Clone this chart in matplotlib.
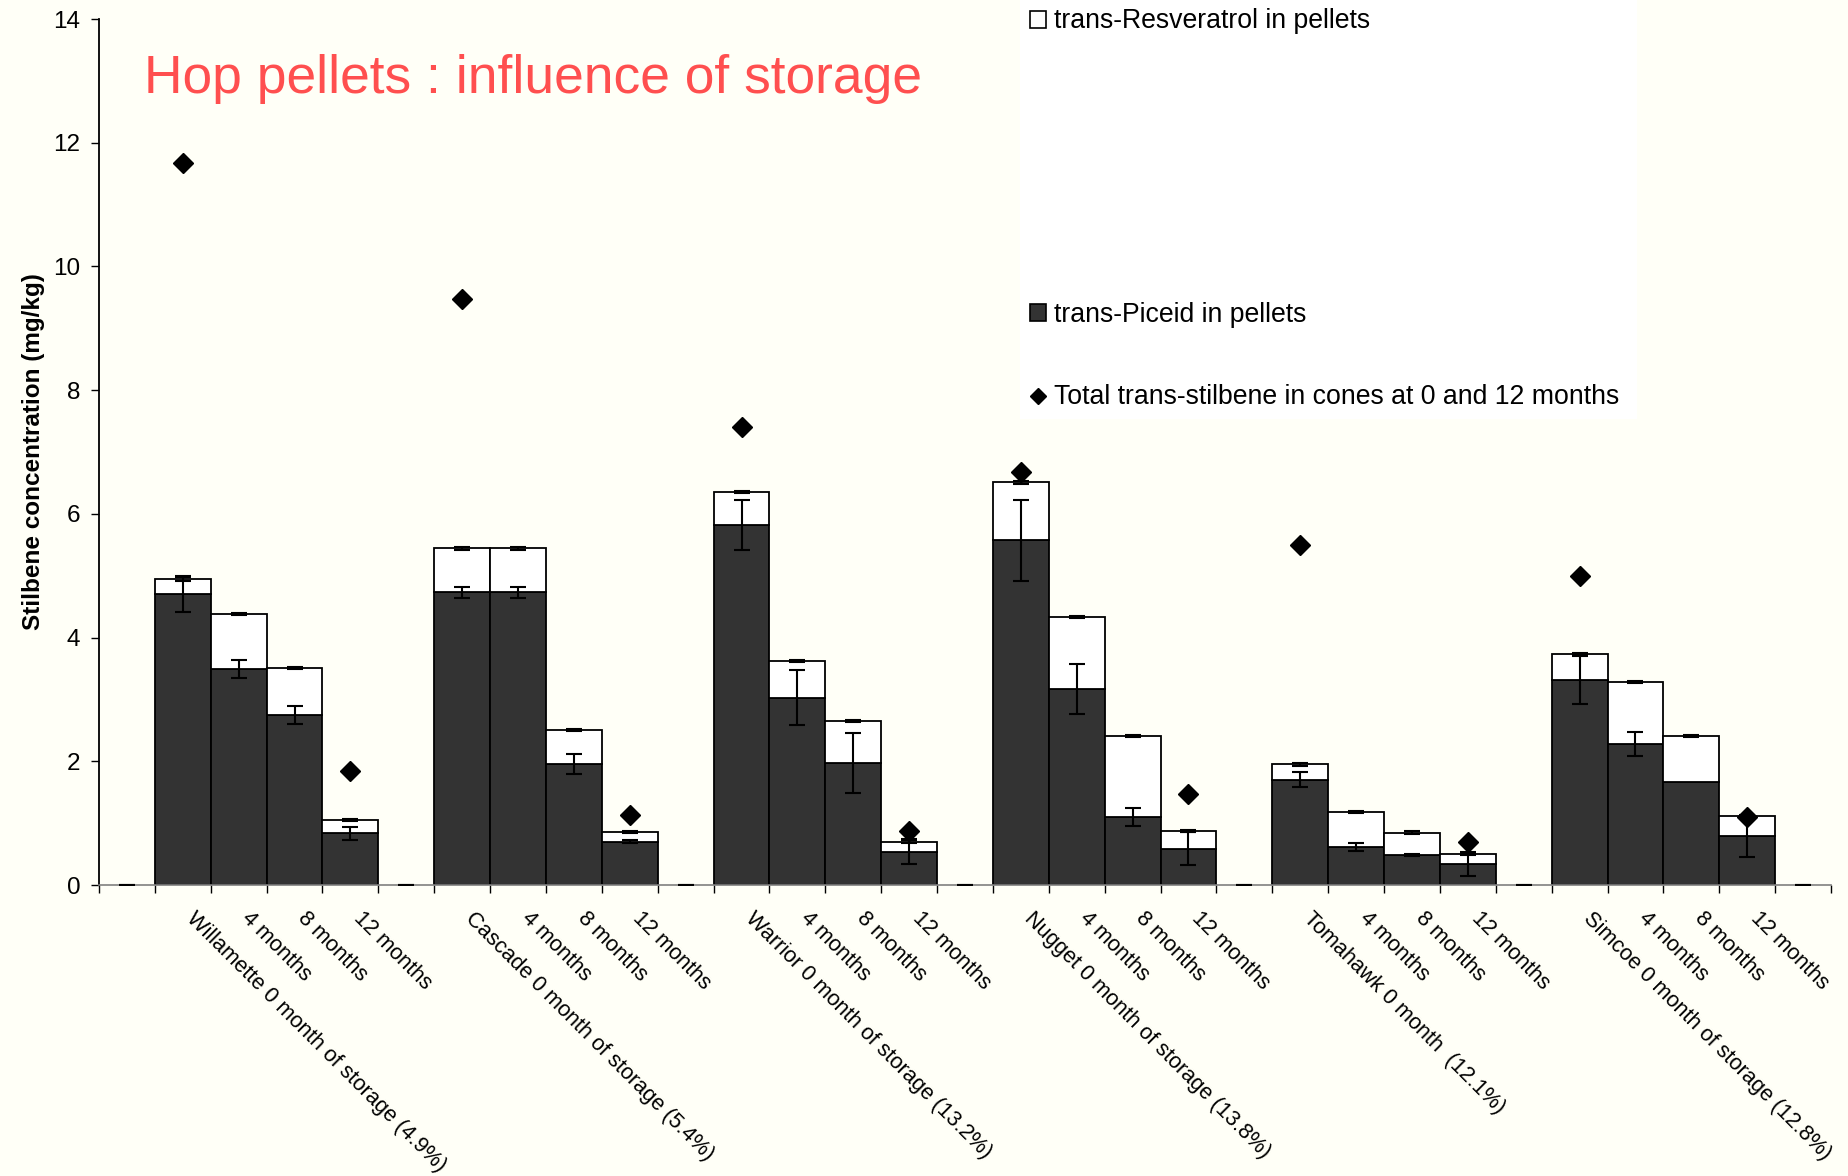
import numpy as np
import matplotlib
matplotlib.use("Agg")
import matplotlib.pyplot as plt
from matplotlib.patches import Patch, Rectangle
from matplotlib.lines import Line2D
from matplotlib.transforms import ScaledTranslation

plt.rcParams["font.family"] = ["Liberation Sans", "DejaVu Sans"]

nan = np.nan

# One category per slot; empty strings are spacer slots between hop varieties
categories = [
    "", "Willamette 0 month of storage (4.9%)", "4 months", "8 months", "12 months",
    "", "Cascade 0 month of storage (5.4%)", "4 months", "8 months", "12 months",
    "", "Warrior 0 month of storage (13.2%)", "4 months", "8 months", "12 months",
    "", "Nugget 0 month of storage (13.8%)", "4 months", "8 months", "12 months",
    "", "Tomahawk 0 month  (12.1%)", "4 months", "8 months", "12 months",
    "", "Simcoe 0 month of storage (12.8%)", "4 months", "8 months", "12 months",
    "",
]

# trans-Piceid in pellets (mg/kg)
piceid = [0, 4.70, 3.49, 2.75, 0.835,
          0, 4.73, 4.73, 1.95, 0.70,
          0, 5.82, 3.03, 1.97, 0.54,
          0, 5.57, 3.17, 1.10, 0.59,
          0, 1.70, 0.62, 0.485, 0.34,
          0, 3.32, 2.28, 1.67, 0.79,
          0]
piceid_err = [0, 0.29, 0.15, 0.15, 0.11,
              0, 0.09, 0.09, 0.16, 0.02,
              0, 0.40, 0.44, 0.49, 0.20,
              0, 0.66, 0.40, 0.15, 0.26,
              0, 0.12, 0.065, 0.02, 0.20,
              0, 0.40, 0.19, nan, 0.33,
              0]

# trans-Resveratrol in pellets (mg/kg), stacked on top of piceid
resveratrol = [0, 0.25, 0.89, 0.76, 0.22,
               0, 0.71, 0.71, 0.56, 0.155,
               0, 0.53, 0.59, 0.68, 0.16,
               0, 0.94, 1.16, 1.31, 0.28,
               0, 0.25, 0.56, 0.36, 0.16,
               0, 0.41, 1.00, 0.74, 0.32,
               0]
resveratrol_err = [nan, 0.03, 0.02, 0.02, 0.02,
                   nan, 0.02, 0.02, 0.02, 0.02,
                   nan, 0.02, 0.02, 0.02, 0.02,
                   nan, 0.02, 0.02, 0.02, 0.02,
                   nan, 0.02, 0.02, 0.02, 0.02,
                   nan, 0.02, 0.02, 0.02, 0.02,
                   nan]

# Total trans-stilbene in cones at 0 and 12 months (mg/kg)
cones = [nan, 11.67, nan, nan, 1.85,
         nan, 9.48, nan, nan, 1.13,
         nan, 7.40, nan, nan, 0.87,
         nan, 6.67, nan, nan, 1.47,
         nan, 5.49, nan, nan, 0.69,
         nan, 5.00, nan, nan, 1.10,
         nan]

BG = "#FFFFF7"
DARK = "#333333"

fig = plt.figure(figsize=(18.49, 11.76), dpi=100, facecolor=BG)
ax = fig.add_axes([99 / 1849, 1 - 885 / 1176, 1732 / 1849, 866 / 1176])
ax.set_facecolor(BG)

x = np.arange(len(categories))
pic = np.array(piceid, dtype=float)
res = np.array(resveratrol, dtype=float)
pic_err = np.array(piceid_err, dtype=float)
res_err = np.array(resveratrol_err, dtype=float)
cone = np.array(cones, dtype=float)

filled = pic > 0
ax.bar(x[filled], pic[filled], width=1.0, color=DARK, edgecolor="black",
       linewidth=1.3, zorder=2)
ax.bar(x[filled], res[filled], bottom=pic[filled], width=1.0, color="white",
       edgecolor="black", linewidth=1.3, zorder=2)

ok = np.isfinite(pic_err)
ax.errorbar(x[ok], pic[ok], yerr=pic_err[ok], fmt="none", ecolor="black",
            elinewidth=1.5, capsize=5.5, capthick=1.5, zorder=3)
ok = np.isfinite(res_err)
ax.errorbar(x[ok], (pic + res)[ok], yerr=res_err[ok], fmt="none", ecolor="black",
            elinewidth=1.5, capsize=5.5, capthick=1.5, zorder=3)

ok = np.isfinite(cone)
ax.plot(x[ok], cone[ok], linestyle="none", marker="D", markersize=10.5,
        color="black", zorder=4)

ax.set_xlim(-0.5, len(categories) - 0.5)
ax.set_ylim(0, 14)
ax.set_yticks(np.arange(0, 15, 2))
ax.tick_params(axis="y", direction="out", length=5.5, width=1, labelsize=17.5,
               pad=8)

ax.set_xticks(x)
ax.set_xticklabels(categories, rotation=-45, ha="left", va="top",
                   rotation_mode="anchor", fontsize=15.7)
ax.set_xticks(np.arange(-0.5, len(categories)), minor=True)
ax.tick_params(axis="x", which="major", length=0, pad=16.5)
ax.tick_params(axis="x", which="minor", length=6, width=1, color="black")
shift = ScaledTranslation(14 / 100, 0, fig.dpi_scale_trans)
for lab in ax.get_xticklabels():
    lab.set_transform(lab.get_transform() + shift)

for side in ("top", "right"):
    ax.spines[side].set_visible(False)
ax.spines["left"].set_linewidth(1.3)
ax.spines["bottom"].set_color("#808080")
ax.spines["bottom"].set_linewidth(1.2)

ax.set_ylabel("Stilbene concentration (mg/kg)", fontsize=17.5, fontweight="bold")
ax.yaxis.set_label_coords(-0.031, 0.5)

fig.text(144 / 1849, 1 - 93 / 1176, "Hop pellets : influence of storage",
         color="#FF4F4F", fontsize=38.4, ha="left", va="baseline")

# Legend panel
fig.add_artist(Rectangle((1020 / 1849, 1 - 419 / 1176), 617 / 1849, 419 / 1176,
                         transform=fig.transFigure, facecolor="white",
                         edgecolor="none", zorder=1))

legend_rows = [
    (Patch(facecolor="white", edgecolor="black", linewidth=1.2),
     "trans-Resveratrol in pellets", 21.5),
    (Patch(facecolor=DARK, edgecolor="black", linewidth=1.2),
     "trans-Piceid in pellets", 314.5),
    (Line2D([], [], linestyle="none", marker="D", markersize=8.5, color="black"),
     "Total trans-stilbene in cones at 0 and 12 months", 397.5),
]
for handle, text, ypix in legend_rows:
    leg = fig.legend([handle], [text], loc="center left",
                     bbox_to_anchor=(1030 / 1849, 1 - ypix / 1176),
                     bbox_transform=fig.transFigure, frameon=False,
                     borderpad=0, borderaxespad=0, handlelength=0.6,
                     handleheight=0.6, handletextpad=0.3, fontsize=19.2)
    leg.set_zorder(5)

fig.savefig("out.png", dpi=100, facecolor=BG)
